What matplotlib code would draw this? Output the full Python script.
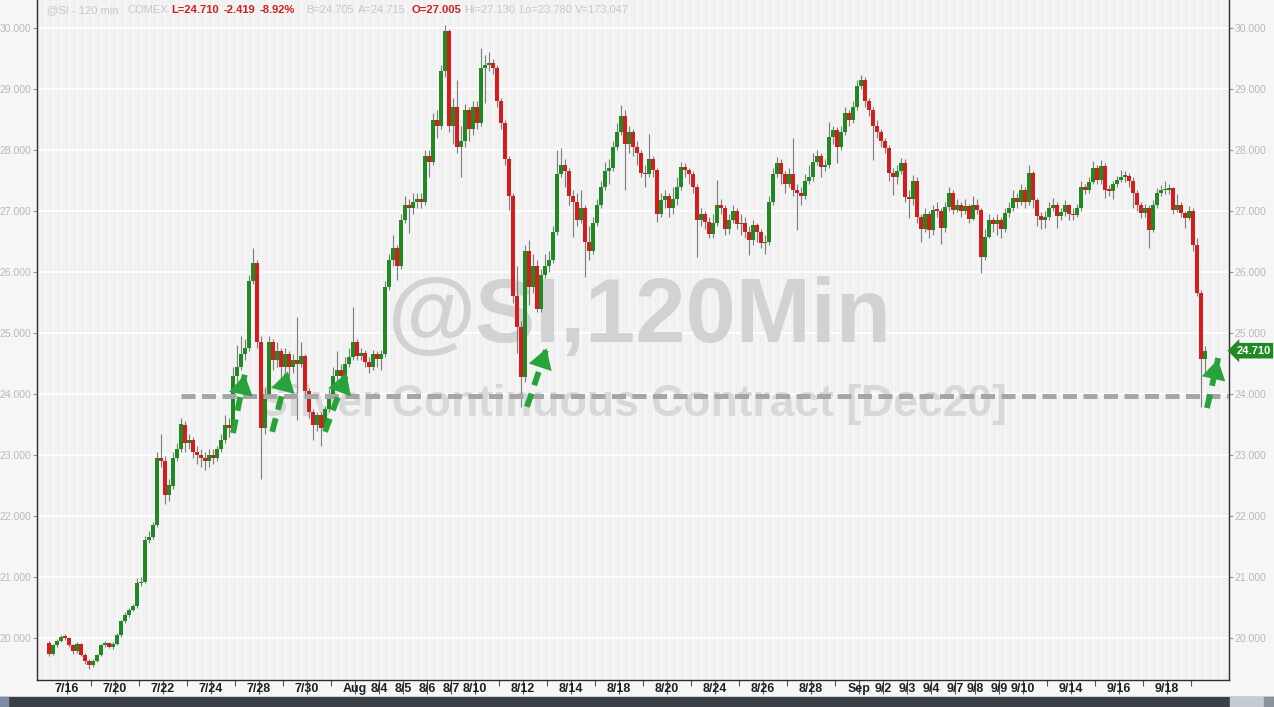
import numpy as np
import matplotlib
matplotlib.use("Agg")
import matplotlib.pyplot as plt
from matplotlib.patches import Rectangle
import matplotlib.transforms as mtransforms

# Trading days, bars drawn per day and the date labels under the axis
days = ["7/15", "7/16", "7/17", "7/20", "7/21", "7/22", "7/23", "7/24", "7/27", "7/28",
        "7/29", "7/30", "7/31", "8/3", "8/4", "8/5", "8/6", "8/7", "8/10", "8/11",
        "8/12", "8/13", "8/14", "8/17", "8/18", "8/19", "8/20", "8/21", "8/24", "8/25",
        "8/26", "8/27", "8/28", "8/31", "9/1", "9/2", "9/3", "9/4", "9/7", "9/8",
        "9/9", "9/10", "9/11", "9/14", "9/15", "9/16", "9/17", "9/18", "9/21"]
bars_per_day = [5, 6, 6, 6, 6, 6, 6, 6, 6, 6,
                6, 6, 6, 6, 6, 6, 6, 6, 6, 6,
                6, 6, 6, 6, 6, 6, 6, 6, 6, 6,
                6, 6, 6, 6, 6, 6, 6, 6, 5, 6,
                6, 6, 6, 6, 6, 6, 6, 6, 4]
day_labels = ["", "7/16", "", "7/20", "", "7/22", "", "7/24", "", "7/28",
              "", "7/30", "", "Aug", "8/4", "8/5", "8/6", "8/7", "8/10", "",
              "8/12", "", "8/14", "", "8/18", "", "8/20", "", "8/24", "",
              "8/26", "", "8/28", "", "Sep", "9/2", "9/3", "9/4", "9/7", "9/8",
              "9/9", "9/10", "", "9/14", "", "9/16", "", "9/18", ""]

# 120-min bars, grouped by day
first_open = 19.92
close = [
    19.74, 19.88, 19.95, 20.02, 20.00,                # 7/15
    19.88, 19.78, 19.90, 19.72, 19.62, 19.55,         # 7/16
    19.62, 19.72, 19.88, 19.92, 19.86, 19.90,         # 7/17
    20.05, 20.28, 20.38, 20.46, 20.52, 20.90,         # 7/20
    20.92, 21.60, 21.65, 21.85, 22.95, 22.90,         # 7/21
    22.35, 22.50, 22.95, 23.10, 23.50, 23.20,         # 7/22
    23.25, 23.05, 23.00, 22.95, 22.90, 23.00,         # 7/23
    22.95, 23.10, 23.25, 23.50, 23.45, 24.30,         # 7/24
    24.45, 24.65, 24.75, 25.85, 26.15, 24.85,         # 7/27
    23.45, 24.00, 24.85, 24.55, 24.70, 24.45,         # 7/28
    24.65, 24.45, 24.55, 24.50, 24.62, 24.05,         # 7/29
    23.70, 23.50, 23.65, 23.45, 23.75, 24.00,         # 7/30
    24.30, 24.40, 24.30, 24.50, 24.60, 24.85,         # 7/31
    24.62, 24.68, 24.52, 24.45, 24.65, 24.58,         # 8/3
    24.65, 25.75, 26.20, 26.40, 26.10, 26.85,         # 8/4
    27.10, 27.05, 27.15, 27.20, 27.15, 27.90,         # 8/5
    27.80, 28.50, 28.40, 29.30, 29.95, 28.40,         # 8/6
    28.70, 28.05, 28.15, 28.65, 28.35, 28.70,         # 8/7
    28.45, 29.35, 29.40, 29.42, 29.35, 28.80,         # 8/10
    28.45, 27.85, 27.25, 25.60, 25.10, 24.28,         # 8/11
    26.35, 25.75, 26.10, 25.40, 25.95, 26.10,         # 8/12
    26.20, 26.65, 27.60, 27.75, 27.65, 27.25,         # 8/13
    27.15, 26.85, 27.05, 26.50, 26.35, 26.80,         # 8/14
    27.10, 27.40, 27.65, 27.70, 28.05, 28.30,         # 8/17
    28.55, 28.10, 28.30, 28.05, 27.95, 27.62,         # 8/18
    27.60, 27.85, 27.68, 26.95, 27.18, 27.25,         # 8/19
    27.05, 27.20, 27.40, 27.72, 27.68, 27.60,         # 8/20
    27.40, 26.85, 26.95, 26.82, 26.62, 26.80,         # 8/21
    27.10, 27.05, 26.70, 26.85, 27.00, 26.78,         # 8/24
    26.80, 26.66, 26.52, 26.77, 26.65, 26.47,         # 8/25
    26.50, 27.15, 27.60, 27.78, 27.60, 27.45,         # 8/26
    27.60, 27.35, 27.30, 27.25, 27.50, 27.55,         # 8/27
    27.80, 27.90, 27.72, 27.75, 28.22, 28.33,         # 8/28
    28.05, 28.30, 28.60, 28.50, 28.70, 29.05,         # 8/31
    29.15, 28.80, 28.65, 28.40, 28.30, 28.15,         # 9/1
    28.03, 27.62, 27.55, 27.65, 27.79, 27.23,         # 9/2
    27.20, 27.50, 26.90, 26.70, 26.95, 26.69,         # 9/3
    27.02, 27.00, 26.72, 27.07, 27.29, 27.02,         # 9/4
    27.10, 27.00, 27.08, 26.87, 27.10,                # 9/7
    27.02, 26.25, 26.58, 26.85, 26.79, 26.85,         # 9/8
    26.71, 26.96, 27.05, 27.21, 27.15, 27.34,         # 9/9
    27.15, 27.62, 27.18, 26.91, 26.85, 26.90,         # 9/10
    27.05, 27.10, 26.92, 26.98, 27.10, 26.95,         # 9/11
    26.93, 27.05, 27.40, 27.35, 27.48, 27.70,         # 9/14
    27.51, 27.73, 27.35, 27.33, 27.44, 27.51,         # 9/15
    27.56, 27.57, 27.50, 27.29, 27.10, 26.96,         # 9/16
    27.05, 26.69, 27.10, 27.29, 27.34, 27.35,         # 9/17
    27.37, 27.02, 27.10, 26.96, 26.89, 27.00,         # 9/18
    26.45, 25.65, 24.58, 24.71,                       # 9/21
]
high = [
    19.95, 19.90, 19.98, 20.05, 20.06,
    20.02, 19.90, 19.93, 19.92, 19.75, 19.65,
    19.65, 19.74, 19.90, 19.95, 19.94, 19.93,
    20.08, 20.30, 20.42, 20.50, 20.55, 20.98,
    21.00, 21.68, 21.75, 21.90, 23.05, 23.35,
    22.98, 22.60, 23.05, 23.20, 23.60, 23.55,
    23.35, 23.30, 23.15, 23.10, 23.05, 23.10,
    23.10, 23.15, 23.35, 23.65, 23.60, 24.45,
    24.80, 24.95, 24.90, 25.95, 26.40, 26.20,
    24.95, 24.10, 24.95, 24.90, 24.85, 24.75,
    24.75, 24.70, 24.65, 25.27, 24.85, 24.65,
    24.10, 23.75, 23.70, 23.70, 23.80, 24.10,
    24.45, 24.70, 24.50, 24.60, 24.75, 25.43,
    24.90, 24.75, 24.72, 24.60, 24.72, 24.70,
    24.72, 25.85, 26.30, 26.60, 26.45, 26.95,
    27.25, 27.20, 27.30, 27.30, 27.30, 28.00,
    28.00, 28.60, 28.65, 29.40, 30.05, 29.98,
    28.85, 29.15, 28.40, 28.75, 28.70, 28.80,
    28.80, 29.67, 29.55, 29.60, 29.50, 29.40,
    28.85, 28.50, 27.90, 27.30, 26.10, 25.20,
    26.45, 26.52, 26.30, 26.20, 26.05, 26.30,
    26.35, 26.75, 28.00, 28.03, 27.85, 27.70,
    27.35, 27.30, 27.35, 27.10, 26.75, 26.90,
    27.20, 27.50, 27.80, 27.85, 28.15, 28.45,
    28.74, 28.65, 28.40, 28.35, 28.15, 28.00,
    27.75, 28.27, 27.90, 27.70, 27.30, 27.35,
    27.30, 27.40, 27.55, 27.80, 27.78, 27.70,
    27.65, 27.45, 27.05, 27.00, 26.90, 26.95,
    27.51, 27.20, 27.10, 26.95, 27.10, 27.05,
    26.95, 26.90, 26.75, 26.85, 26.80, 26.70,
    26.60, 27.25, 27.70, 27.88, 27.85, 27.65,
    27.70, 28.20, 27.45, 27.40, 27.60, 27.75,
    27.95, 28.00, 27.95, 27.85, 28.46, 28.40,
    28.38, 28.40, 28.70, 28.65, 28.80, 29.15,
    29.23, 29.20, 28.85, 28.70, 28.50, 28.35,
    28.20, 28.08, 27.70, 27.75, 27.87, 27.85,
    27.35, 27.59, 27.55, 26.95, 27.05, 27.00,
    27.10, 27.15, 27.05, 27.15, 27.40, 27.35,
    27.20, 27.15, 27.20, 27.12, 27.25,
    27.20, 27.05, 26.70, 26.95, 26.90, 26.95,
    26.90, 27.05, 27.15, 27.35, 27.30, 27.45,
    27.40, 27.75, 27.65, 27.22, 26.98, 27.00,
    27.15, 27.22, 27.15, 27.05, 27.18, 27.12,
    27.05, 27.12, 27.50, 27.45, 27.55, 27.82,
    27.76, 27.84, 27.78, 27.42, 27.50, 27.58,
    27.68, 27.65, 27.62, 27.55, 27.35, 27.15,
    27.12, 27.10, 27.18, 27.38, 27.42, 27.50,
    27.45, 27.40, 27.28, 27.15, 27.00, 27.08,
    27.05, 26.55, 25.70, 24.78,
]
low = [
    19.70, 19.72, 19.85, 19.93, 19.96,
    19.85, 19.74, 19.76, 19.70, 19.58, 19.50,
    19.52, 19.60, 19.70, 19.85, 19.84, 19.82,
    19.88, 20.02, 20.25, 20.35, 20.44, 20.50,
    20.85, 20.90, 21.55, 21.62, 21.82, 22.80,
    22.20, 22.25, 22.45, 22.90, 23.05, 23.05,
    23.10, 22.95, 22.85, 22.80, 22.75, 22.80,
    22.85, 22.90, 23.05, 23.20, 23.30, 23.40,
    24.20, 24.40, 24.55, 24.70, 25.80, 24.75,
    22.60, 23.35, 23.95, 24.40, 24.45, 24.25,
    24.35, 24.30, 24.35, 23.57, 24.45, 23.95,
    23.60, 23.25, 23.40, 23.15, 23.40, 23.70,
    23.95, 24.20, 24.15, 24.25, 24.45, 24.55,
    24.55, 24.55, 24.45, 24.35, 24.40, 24.45,
    24.40, 24.60, 25.70, 26.10, 25.87, 26.05,
    26.80, 26.64, 26.95, 27.05, 27.05, 27.10,
    27.55, 27.75, 28.20, 28.35, 29.20, 28.30,
    28.10, 27.95, 27.56, 28.05, 28.15, 28.25,
    28.35, 28.40, 28.77, 29.30, 29.25, 28.70,
    28.35, 27.75, 27.02, 25.50, 24.67, 23.79,
    24.20, 25.46, 25.65, 25.34, 25.35, 25.90,
    26.00, 26.15, 26.60, 27.55, 27.40, 27.10,
    26.57, 26.75, 26.80, 25.92, 26.20, 26.30,
    26.75, 27.05, 27.35, 27.45, 27.65, 28.00,
    28.25, 27.34, 27.95, 27.90, 27.75, 27.55,
    27.40, 27.55, 27.55, 26.82, 26.90, 27.05,
    26.90, 26.95, 27.10, 27.35, 27.55, 27.45,
    27.30, 26.25, 26.75, 26.70, 26.55, 26.55,
    26.75, 26.95, 26.60, 26.62, 26.80, 26.70,
    26.60, 26.55, 26.28, 26.45, 26.50, 26.40,
    26.30, 26.45, 27.10, 27.55, 27.45, 27.30,
    27.40, 27.25, 26.69, 27.10, 27.20, 27.45,
    27.50, 27.75, 27.56, 27.65, 27.70, 28.10,
    27.79, 28.00, 28.25, 28.40, 28.45, 28.65,
    29.00, 28.70, 28.55, 27.84, 28.20, 28.05,
    27.95, 27.50, 27.26, 27.45, 27.60, 27.15,
    26.88, 27.10, 26.80, 26.49, 26.65, 26.55,
    26.60, 26.90, 26.46, 26.65, 27.00, 26.95,
    26.98, 26.90, 26.95, 26.80, 26.85,
    26.95, 25.98, 26.20, 26.55, 26.65, 26.60,
    26.55, 26.65, 26.90, 27.00, 27.05, 27.10,
    27.05, 27.10, 27.05, 26.75, 26.70, 26.72,
    26.85, 27.00, 26.72, 26.85, 26.92, 26.85,
    26.85, 26.90, 27.00, 27.28, 27.30, 27.45,
    27.45, 27.45, 27.21, 27.25, 27.20, 27.40,
    27.48, 27.48, 27.40, 27.05, 27.00, 26.88,
    26.90, 26.39, 26.65, 27.05, 27.25, 27.28,
    27.28, 26.95, 26.98, 26.90, 26.72, 26.85,
    26.35, 25.60, 23.78, 24.35,
]

last_price = 24.710
support_level = 23.97
support_start_bar = 33
# hand-drawn green arrows: (bar, price) of tail and head
arrow_tails = [(46, 23.36), (55.8, 23.38), (69, 23.38), (119.5, 23.79), (289.5, 23.77)]
arrow_heads = [(49, 24.34), (59.8, 24.39), (74.5, 24.36), (124.5, 24.77), (292.3, 24.59)]

header = [("@SI - 120 min", 47, "#c3c7ce", "normal"),
          ("COMEX", 127, "#c3c7ce", "normal"),
          ("L=24.710", 171, "#d01f1f", "bold"),
          ("-2.419", 224, "#d01f1f", "bold"),
          ("-8.92%", 260, "#d01f1f", "bold"),
          ("B=24.705", 306, "#c3c7ce", "normal"),
          ("A=24.715", 358, "#c3c7ce", "normal"),
          ("O=27.005", 411, "#d01f1f", "bold"),
          ("Hi=27.130", 464, "#c3c7ce", "normal"),
          ("Lo=23.780", 519, "#c3c7ce", "normal"),
          ("V=173,047", 575, "#c3c7ce", "normal")]

GREEN = "#1f8a22"
RED = "#d61d1d"
ARROW = "#28a23a"
SANS = ["Liberation Sans", "DejaVu Sans"]
NARROW = ["Liberation Sans Narrow", "Liberation Sans", "DejaVu Sans"]

W, H = 1274, 707
fig = plt.figure(figsize=(W / 100, H / 100), dpi=100, facecolor="#f6f6f7")
ax = fig.add_axes([37 / W, 27 / H, (1229 - 37) / W, 680 / H])
ax.set_facecolor("#f1f1f2")

c = np.array(close)
o = np.array([first_open] + close[:-1])
x = np.arange(len(c))
up = c >= o

# background grid
ax.vlines(np.arange(-3, len(c) + 6, 2), 0, 1, transform=ax.get_xaxis_transform(),
          color="white", lw=0.6, alpha=0.8, zorder=0)
ax.set_yticks(np.arange(20, 31))
ax.grid(axis="y", color="white", lw=1.3, zorder=0.5)
ax.set_axisbelow(True)

# watermark
ax.text(0.506, 0.532, "@SI,120Min", transform=ax.transAxes, ha="center", va="center",
        fontsize=65, fontweight="bold", family=SANS, color="#d2d2d4", zorder=1)
ax.text(0.50, 0.405, "Silver Continuous Contract [Dec20]", transform=ax.transAxes,
        ha="center", va="center", fontsize=32, fontweight="bold",
        family=SANS, color="#d8d8da", zorder=1)

# candles
ax.vlines(x, low, high, color="#7d7d7d", lw=0.8, zorder=3)
ax.bar(x, np.maximum(np.abs(c - o), 0.025), bottom=np.minimum(o, c), width=0.78,
       color=np.where(up, GREEN, RED), zorder=4)

# support line
ax.hlines(support_level, support_start_bar, len(c) + 6, color="#a6a6a6", lw=3.6,
          linestyles=(0, (2.8, 1.3)), zorder=5)

# arrows: dashed shaft plus a solid head
for tail, head in zip(arrow_tails, arrow_heads):
    ax.plot([tail[0], head[0]], [tail[1], head[1]], color=ARROW, lw=4.2,
            linestyle=(0, (2.4, 1.5)), solid_capstyle="butt", dash_capstyle="butt",
            zorder=6)
    ax.annotate("", xy=head, xytext=tail, zorder=7,
                arrowprops=dict(arrowstyle="-|>,head_length=0.6,head_width=0.36",
                                fc=ARROW, ec="none", mutation_scale=24,
                                shrinkA=0, shrinkB=0))

# last price tag
trans = mtransforms.blended_transform_factory(ax.transAxes, ax.transData)
ax.text(1.006, last_price, f"{last_price:.3f}", transform=trans, ha="left", va="center",
        fontsize=8, fontweight="bold", color="white", family=SANS,
        bbox=dict(boxstyle="larrow,pad=0.25", fc="#1f8a22", ec="none"), zorder=7)

ax.set_xlim(-3, 295)
ax.set_ylim(30 - 652 / 61, 30 + 28 / 61)

# y axis on both sides
ax.set_yticklabels([f"{v:.3f}" for v in range(20, 31)])
ax.tick_params(axis="y", which="major", left=True, right=True, labelleft=True,
               labelright=True, length=3, width=0.8, color="#9a9a9a", pad=1,
               labelsize=7.5, labelcolor="#b5b9c1")
for lab in ax.get_yticklabels():
    lab.set_family(SANS)

# x axis: day starts
starts = np.cumsum([0] + bars_per_day[:-1]) - 0.5
major_pos = [s for s, lab in zip(starts, day_labels) if lab]
major_lab = [lab for lab in day_labels if lab]
minor_pos = [s for s, lab in zip(starts[1:], day_labels[1:]) if not lab]
ax.set_xticks(major_pos)
ax.set_xticklabels(major_lab)
ax.set_xticks(minor_pos, minor=True)
ax.tick_params(axis="x", which="major", length=10, width=0.8, color="#555555",
               pad=-8, labelsize=9, labelcolor="#1e1e2a")
ax.tick_params(axis="x", which="minor", length=4.5, width=0.8, color="#555555")
for lab in ax.get_xticklabels():
    lab.set_family(NARROW)
    lab.set_fontweight("bold")

for side in ["left", "right", "bottom"]:
    ax.spines[side].set_color("#2e2e2e")
    ax.spines[side].set_linewidth(1.0)
ax.spines["top"].set_visible(False)

# header line
for txt, px, col, wt in header:
    fig.text(px / W, 1 - 10 / H, txt, ha="left", va="center", fontsize=8, color=col,
             fontweight=wt, family=SANS)

# bottom status bar
fig.patches.append(Rectangle((0, 0), 1, 10 / H, transform=fig.transFigure,
                             color="#3a3f48", zorder=0))
fig.patches.append(Rectangle((1230 / W, 0), 34 / W, 10 / H, transform=fig.transFigure,
                             color="#c6cbd3", zorder=1))
fig.patches.append(Rectangle((1264 / W, 0), 10 / W, 10 / H, transform=fig.transFigure,
                             color="#8c929c", zorder=1))
fig.patches.append(Rectangle((0, 0), 8 / W, 10 / H, transform=fig.transFigure,
                             color="#7c8ca2", zorder=1))

fig.savefig("out.png", dpi=100, facecolor=fig.get_facecolor())
